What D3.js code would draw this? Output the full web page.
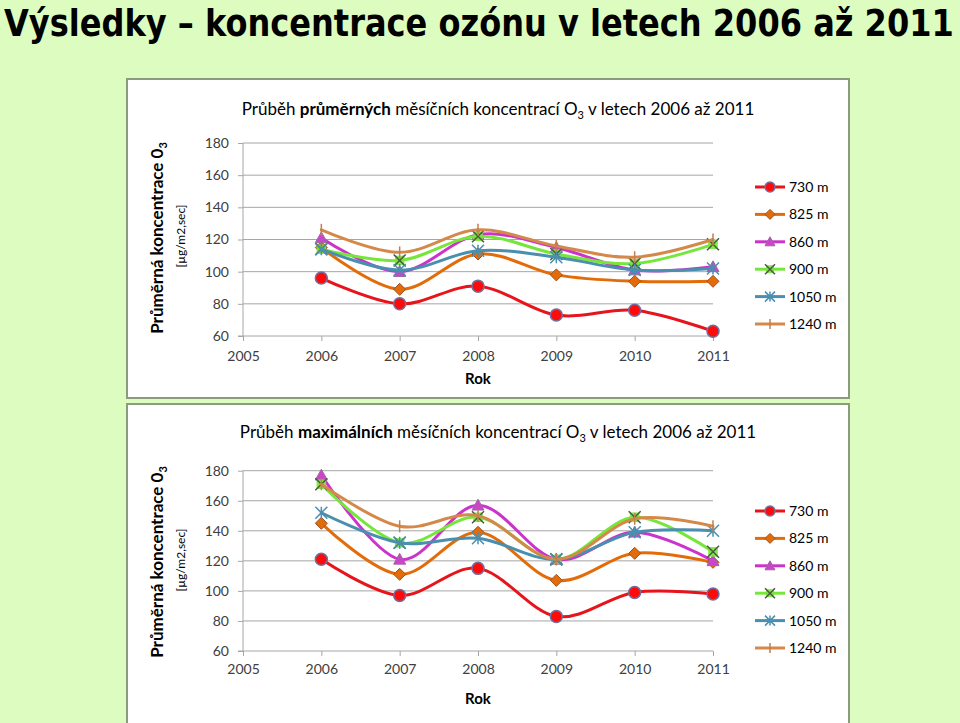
<!DOCTYPE html>
<html>
<head>
<meta charset="utf-8">
<script src="https://cdnjs.cloudflare.com/ajax/libs/d3/7.8.5/d3.min.js"></script>
<style>
  html, body { margin: 0; padding: 0; background: #dcfcc0; }
  svg { display: block; }
</style>
</head>
<body>
<svg id="chart" width="960" height="723"></svg>
<script>
// ---------------- DATA ----------------
const years = [2006, 2007, 2008, 2009, 2010, 2011];
const xTicks = [2005, 2006, 2007, 2008, 2009, 2010, 2011];
const yTicks = [60, 80, 100, 120, 140, 160, 180];
const seriesNames = ["730 m", "825 m", "860 m", "900 m", "1050 m", "1240 m"];

// average monthly concentrations
const avg730  = [96, 80, 91, 73, 76, 63];
const avg825  = [115, 89, 111, 98, 94, 94];
const avg860  = [121, 100, 123, 115, 101, 103];
const avg900  = [114, 107, 122, 111, 105, 117];
const avg1050 = [114, 101, 113, 109, 101, 102];
const avg1240 = [126, 112, 126, 116, 109, 120];

// maximum monthly concentrations
const max730  = [121, 97, 115, 83, 99, 98];
const max825  = [145, 111, 139, 107, 125, 119];
const max860  = [177, 121, 157, 121, 139, 120];
const max900  = [171, 132, 149, 121, 149, 126];
const max1050 = [152, 132, 135, 121, 139, 140];
const max1240 = [171, 143, 150, 121, 148, 143];

const pageTitle = "Výsledky – koncentrace ozónu v letech 2006 až 2011";
const xTitle = "Rok";
const yTitle = "Průměrná koncentrace 0";
const yUnit = "[µg/m2,sec]";

// ---------------- STYLE ----------------
const styles = [
  { color: "#e8141c", marker: "circle",   fill: "#ff0a0a", stroke: "#7070a0" },
  { color: "#e36c0a", marker: "diamond",  fill: "#e36c0a", stroke: "#a05020" },
  { color: "#cc33cc", marker: "triangle", fill: "#cc44cc", stroke: "#9a6aa0" },
  { color: "#77e63a", marker: "x",        fill: "#77e63a", stroke: "#4a5a40" },
  { color: "#4a8fb0", marker: "asterisk", fill: "none",    stroke: "#4a8fb0" },
  { color: "#d4894a", marker: "plus",     fill: "none",    stroke: "#c08050" }
];

const svg = d3.select("#chart");
const font = "Lato, 'Open Sans', sans-serif";

// page title (scaled horizontally to fit the page width, like the condensed original)
const titleG = svg.append("g");
const titleT = titleG.append("text")
  .attr("x", 0).attr("y", 0)
  .attr("font-family", "'DejaVu Sans', sans-serif")
  .attr("font-weight", "bold")
  .attr("font-size", 37)
  .attr("fill", "#000")
  .text(pageTitle);
const natW = titleT.node().getComputedTextLength();
titleG.attr("transform", `translate(4,36) scale(${950 / natW},1)`);

function drawMarker(g, type, s, size) {
  const r = size;
  if (type === "circle") {
    g.append("circle").attr("r", r).attr("fill", s.fill).attr("stroke", s.stroke).attr("stroke-width", 1.5);
  } else if (type === "diamond") {
    g.append("path").attr("d", `M0,${-r}L${r},0L0,${r}L${-r},0Z`).attr("fill", s.fill).attr("stroke", s.stroke).attr("stroke-width", 1);
  } else if (type === "triangle") {
    g.append("path").attr("d", `M0,${-r}L${r},${r*0.8}L${-r},${r*0.8}Z`).attr("fill", s.fill).attr("stroke", s.stroke).attr("stroke-width", 1);
  } else if (type === "x") {
    g.append("rect").attr("x", -r*0.8).attr("y", -r*0.8).attr("width", r*1.6).attr("height", r*1.6).attr("fill", s.fill).attr("opacity", 0.9);
    g.append("path").attr("d", `M${-r},${-r}L${r},${r}M${r},${-r}L${-r},${r}`).attr("stroke", s.stroke).attr("stroke-width", 1.5).attr("fill", "none");
  } else if (type === "asterisk") {
    g.append("path").attr("d", `M${-r},${-r}L${r},${r}M${r},${-r}L${-r},${r}M0,${-r}L0,${r}`).attr("stroke", s.stroke).attr("stroke-width", 1.5).attr("fill", "none");
  } else if (type === "plus") {
    g.append("path").attr("d", `M0,${-r}L0,${r}`).attr("stroke", s.stroke).attr("stroke-width", 1.5).attr("fill", "none");
  }
}

function drawPanel(cfg) {
  const P = svg.append("g");
  P.append("rect")
    .attr("x", cfg.px).attr("y", cfg.py).attr("width", cfg.pw).attr("height", cfg.ph)
    .attr("fill", "#ffffff").attr("stroke", "#8c9a80").attr("stroke-width", 2);

  const x = d3.scaleLinear().domain([2005, 2011]).range([243, 713]);
  const y = d3.scaleLinear().domain([60, 180]).range([cfg.yBottom, cfg.yTop]);

  const t = P.append("text")
    .attr("x", 498).attr("y", cfg.titleY)
    .attr("text-anchor", "middle")
    .attr("font-family", font).attr("font-size", 17).attr("fill", "#000");
  t.append("tspan").text("Průběh ");
  t.append("tspan").attr("font-weight", "bold").text(cfg.bold);
  t.append("tspan").text(" měsíčních koncentrací O");
  t.append("tspan").attr("font-size", 11).attr("dy", 4).text("3");
  t.append("tspan").attr("dy", -4).text(" v letech 2006 až 2011");

  P.append("g").selectAll("line").data(yTicks.filter(d => d > 60)).join("line")
    .attr("x1", x(2005)).attr("x2", x(2011))
    .attr("y1", d => y(d)).attr("y2", d => y(d))
    .attr("stroke", "#a6a6a6").attr("stroke-width", 1);

  const ya = P.append("g").attr("transform", `translate(${x(2005)},0)`)
    .call(d3.axisLeft(y).tickValues(yTicks).tickSize(5).tickPadding(9).tickFormat(d3.format("d")));
  ya.select(".domain").attr("stroke", "#a6a6a6").attr("d", `M-5,${y(60)}H0V${y(180)}`);
  ya.selectAll(".tick line").attr("stroke", "#a6a6a6");
  ya.selectAll("text").attr("font-family", font).attr("font-size", 14).attr("fill", "#404040");

  const xa = P.append("g").attr("transform", `translate(0,${y(60)})`)
    .call(d3.axisBottom(x).tickValues(xTicks).tickSize(5).tickPadding(cfg.xPad).tickFormat(d3.format("d")));
  xa.select(".domain").attr("stroke", "#a6a6a6").attr("d", `M${x(2005)},0H${x(2011)}`);
  xa.selectAll(".tick line").attr("stroke", "#a6a6a6");
  xa.selectAll("text").attr("font-family", font).attr("font-size", 14).attr("fill", "#404040");

  P.append("text").attr("x", 478).attr("y", cfg.xTitleY).attr("text-anchor", "middle")
    .attr("font-family", font).attr("font-weight", "bold").attr("font-size", 15).attr("fill", "#000").text(xTitle);

  const yt = P.append("text")
    .attr("transform", `translate(163,${cfg.yTitleY}) rotate(-90)`)
    .attr("text-anchor", "middle")
    .attr("font-family", font).attr("font-weight", "bold").attr("font-size", 17).attr("fill", "#000");
  yt.append("tspan").text(yTitle);
  yt.append("tspan").attr("font-size", 11).attr("dy", 4).text("3");

  P.append("text")
    .attr("transform", `translate(185,${cfg.yTitleY - 2}) rotate(-90)`)
    .attr("text-anchor", "middle")
    .attr("font-family", font).attr("font-size", 12).attr("fill", "#000").text(yUnit);

  const line = d3.line().x((d, i) => x(years[i])).y(d => y(d)).curve(d3.curveCardinal.tension(0));
  cfg.series.forEach((vals, si) => {
    const s = styles[si];
    P.append("path").attr("d", line(vals)).attr("fill", "none")
      .attr("stroke", s.color).attr("stroke-width", 3).attr("stroke-linecap", "round");
    vals.forEach((v, i) => {
      const g = P.append("g").attr("transform", `translate(${x(years[i])},${y(v)})`);
      drawMarker(g, s.marker, s, 6);
    });
  });

  seriesNames.forEach((name, si) => {
    const s = styles[si];
    const ly = cfg.legendY + si * 27.4;
    P.append("line").attr("x1", 755).attr("x2", 785).attr("y1", ly).attr("y2", ly)
      .attr("stroke", s.color).attr("stroke-width", 3);
    const g = P.append("g").attr("transform", `translate(770,${ly})`);
    drawMarker(g, s.marker, s, 5);
    P.append("text").attr("x", 789).attr("y", ly + 5)
      .attr("font-family", font).attr("font-size", 14).attr("fill", "#000").text(name);
  });
}

drawPanel({
  px: 127, py: 79, pw: 722, ph: 319,
  yTop: 143, yBottom: 336, xPad: 10,
  titleY: 115, xTitleY: 384, yTitleY: 238, legendY: 187,
  bold: "průměrných",
  series: [avg730, avg825, avg860, avg900, avg1050, avg1240]
});

drawPanel({
  px: 127, py: 404, pw: 722, ph: 330,
  yTop: 470.7, yBottom: 651, xPad: 8,
  titleY: 438, xTitleY: 704, yTitleY: 562, legendY: 511,
  bold: "maximálních",
  series: [max730, max825, max860, max900, max1050, max1240]
});
</script>
</body>
</html>
